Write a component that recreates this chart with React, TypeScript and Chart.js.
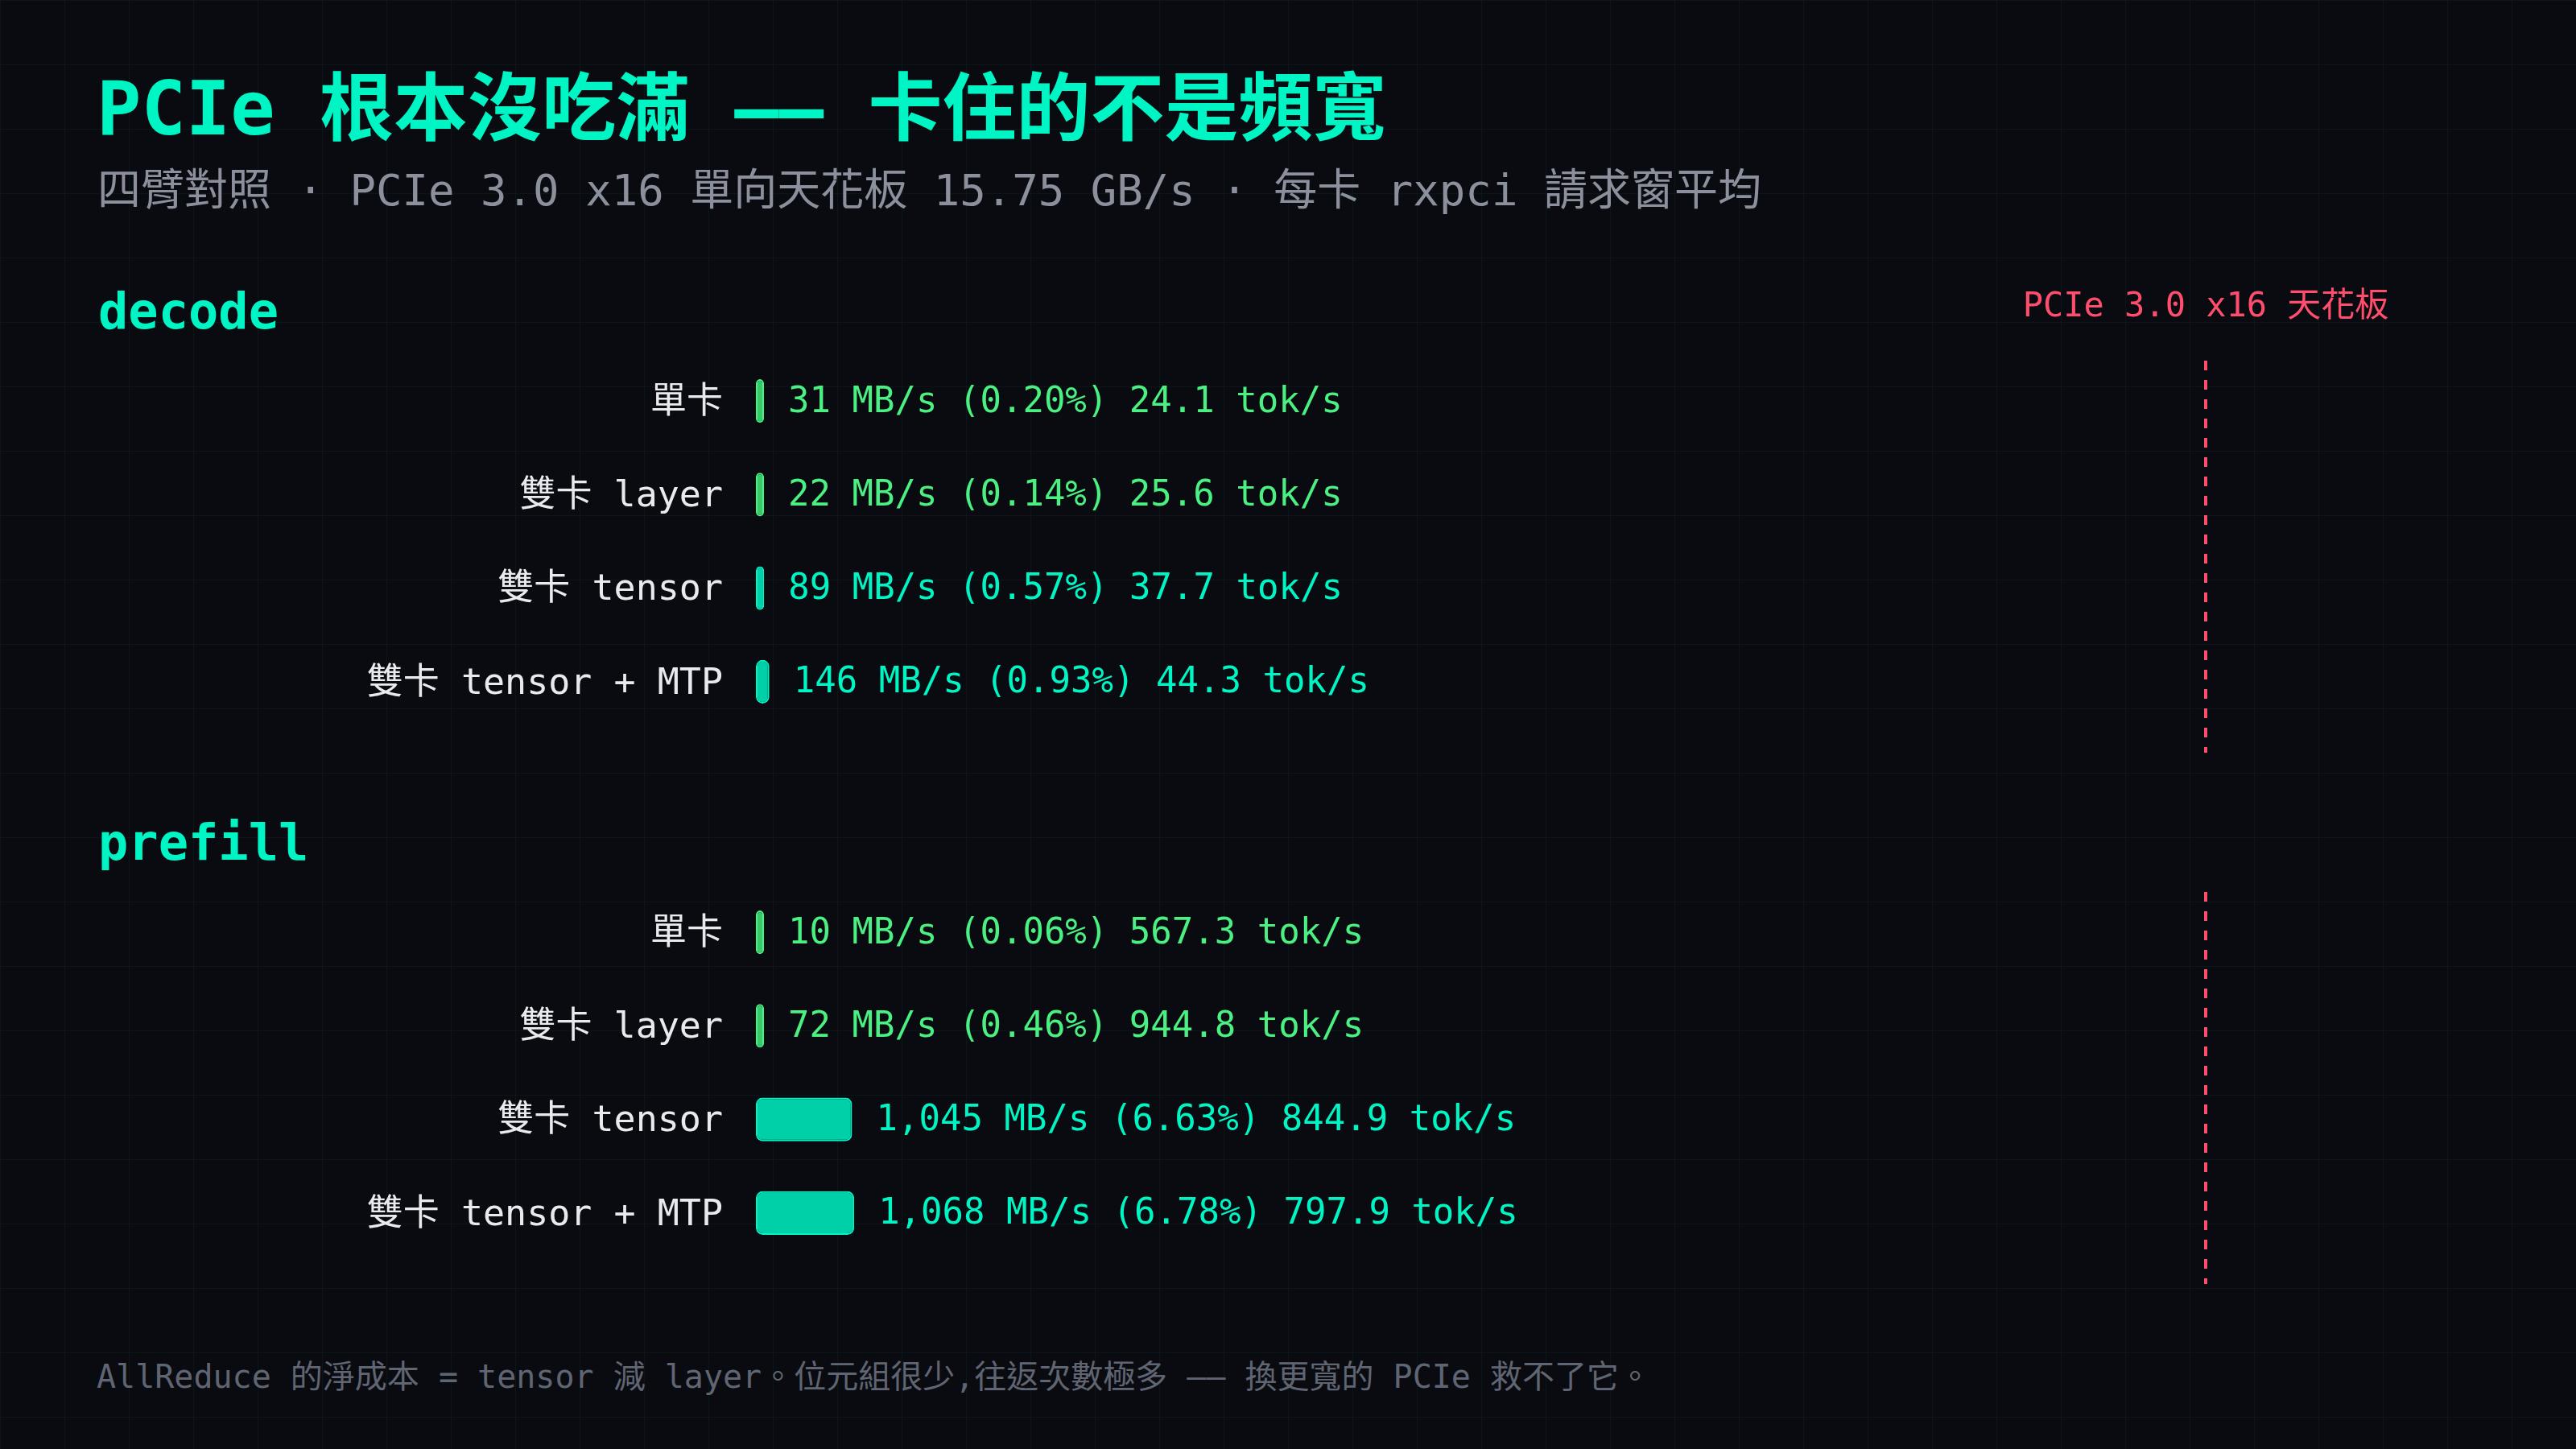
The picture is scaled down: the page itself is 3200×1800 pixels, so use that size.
import { Chart, registerables } from "chart.js";
import { useEffect, useRef } from "react";

Chart.register(...registerables);

// rows shared by both panels
const ROW_LABELS = ["單卡", "雙卡 layer", "雙卡 tensor", "雙卡 tensor + MTP"];
const ROW_KIND = ["pipe", "pipe", "tensor", "tensor"];

// decode: measured PCIe traffic (MB/s) and throughput (tok/s)
const DECODE_MBPS = [31, 22, 89, 146];
const DECODE_TOKS = [24.1, 25.6, 37.7, 44.3];

// prefill
const PREFILL_MBPS = [10, 72, 1045, 1068];
const PREFILL_TOKS = [567.3, 944.8, 844.9, 797.9];

// PCIe 3.0 x16 one-way ceiling, MB/s
const PCIE_CEILING_MBPS = 15750;

const MONO = "'DejaVu Sans Mono', 'Noto Sans CJK TC', monospace";

const colors = {
    bg: "#0a0b10",
    grid: "rgba(0, 255, 200, 0.045)",
    teal: "#00f5c4",
    tealFill: "#00d0a8",
    green: "#4af082",
    greenFill: "#38c96c",
    label: "#e8eaee",
    sub: "#8b909c",
    foot: "#5f6572",
    ceiling: "#ff4d6d",
};

const textColor = (kind: string) => (kind === "tensor" ? colors.teal : colors.green);
const fillColor = (kind: string) => (kind === "tensor" ? colors.tealFill : colors.greenFill);

const PhaseChart = ({ mbps, toks, showCeilingLabel }: { mbps: number[]; toks: number[]; showCeilingLabel: boolean }) => {
    const canvasRef = useRef<HTMLCanvasElement | null>(null);
    const chartRef = useRef<any>(null);

    useEffect(() => {
        if (!canvasRef.current) return;
        if (chartRef.current) chartRef.current.destroy();

        const valueLabels = {
            id: "valueLabels",
            afterDatasetsDraw(chart: any) {
                const ctx = chart.ctx;
                const meta = chart.getDatasetMeta(0);
                ctx.save();
                ctx.font = `44px ${MONO}`;
                ctx.textBaseline = "middle";
                ctx.textAlign = "left";
                meta.data.forEach((bar: any, i: number) => {
                    const mb = mbps[i];
                    const pct = ((mb / PCIE_CEILING_MBPS) * 100).toFixed(2);
                    const text = `${mb.toLocaleString("en-US")} MB/s (${pct}%) ${toks[i].toFixed(1)} tok/s`;
                    ctx.fillStyle = textColor(ROW_KIND[i]);
                    ctx.fillText(text, bar.x + 30, bar.y + 2);
                });
                ctx.restore();
            },
        };

        const ceilingLine = {
            id: "ceilingLine",
            afterDraw(chart: any) {
                const { ctx, chartArea, scales } = chart;
                const x = Math.round(scales.x.getPixelForValue(PCIE_CEILING_MBPS));
                ctx.save();
                ctx.strokeStyle = colors.ceiling;
                ctx.lineWidth = 4;
                ctx.setLineDash([12, 12]);
                ctx.beginPath();
                ctx.moveTo(x, chartArea.top + 8);
                ctx.lineTo(x, chartArea.bottom + 30);
                ctx.stroke();
                if (showCeilingLabel) {
                    ctx.setLineDash([]);
                    ctx.fillStyle = colors.ceiling;
                    ctx.font = `42px ${MONO}`;
                    ctx.textAlign = "center";
                    ctx.textBaseline = "alphabetic";
                    ctx.fillText("PCIe 3.0 x16 天花板", x, chartArea.top - 47);
                }
                ctx.restore();
            },
        };

        chartRef.current = new Chart(canvasRef.current, {
            type: "bar",
            data: {
                labels: ROW_LABELS,
                datasets: [
                    {
                        data: mbps,
                        backgroundColor: ROW_KIND.map(fillColor),
                        borderColor: ROW_KIND.map(textColor),
                        borderWidth: 2,
                        borderRadius: 8,
                        borderSkipped: false,
                        minBarLength: 10,
                        barPercentage: 0.466,
                        categoryPercentage: 1,
                    },
                ],
            },
            options: {
                indexAxis: "y",
                animation: false,
                responsive: true,
                maintainAspectRatio: false,
                layout: { padding: { top: 120, bottom: 56, left: 0, right: 460 } },
                scales: {
                    x: {
                        display: false,
                        min: 0,
                        max: PCIE_CEILING_MBPS,
                    },
                    y: {
                        grid: { display: false },
                        border: { display: false },
                        afterFit: (scale: any) => {
                            scale.width = 939;
                        },
                        ticks: {
                            color: colors.label,
                            padding: 33,
                            labelOffset: 3,
                            font: { family: MONO, size: 45 },
                        },
                    },
                },
                plugins: {
                    legend: { display: false },
                    tooltip: { enabled: false },
                },
            },
            plugins: [valueLabels, ceilingLine],
        });

        return () => chartRef.current?.destroy();
    }, [mbps, toks, showCeilingLabel]);

    return <canvas ref={canvasRef}></canvas>;
};

const App = () => {
    const abs = (top: number, extra: any) => ({ position: "absolute" as const, left: 120, top, margin: 0, lineHeight: 1, whiteSpace: "nowrap" as const, fontFamily: MONO, ...extra });

    return (
        <div
            style={{
                position: "fixed",
                left: 0,
                top: 0,
                width: 3200,
                height: 1800,
                overflow: "hidden",
                backgroundColor: colors.bg,
                backgroundImage: `linear-gradient(to right, ${colors.grid} 1px, transparent 1px), linear-gradient(to bottom, ${colors.grid} 1px, transparent 1px)`,
                backgroundSize: "80px 80px",
            }}
        >
            <h1 style={abs(90, { left: 120, fontSize: 92, fontWeight: 700, color: colors.teal })}>
                PCIe 根本沒吃滿 —— 卡住的不是頻寬
            </h1>
            <div style={abs(210, { left: 121, fontSize: 54, color: colors.sub })}>
                四臂對照 · PCIe 3.0 x16 單向天花板 15.75 GB/s · 每卡 rxpci 請求窗平均
            </div>

            <div style={abs(356, { left: 122, fontSize: 62, fontWeight: 700, color: colors.teal })}>decode</div>
            <div style={{ position: "absolute", left: 0, top: 320, width: 3200, height: 645 }}>
                <PhaseChart mbps={DECODE_MBPS} toks={DECODE_TOKS} showCeilingLabel={true} />
            </div>

            <div style={abs(1016, { left: 122, fontSize: 62, fontWeight: 700, color: colors.teal })}>prefill</div>
            <div style={{ position: "absolute", left: 0, top: 980, width: 3200, height: 645 }}>
                <PhaseChart mbps={PREFILL_MBPS} toks={PREFILL_TOKS} showCeilingLabel={false} />
            </div>

            <div style={abs(1690, { fontSize: 40, color: colors.foot })}>
                AllReduce 的淨成本 = tensor 減 layer。位元組很少,往返次數極多 —— 換更寬的 PCIe 救不了它。
            </div>
        </div>
    );
};

export default App;
